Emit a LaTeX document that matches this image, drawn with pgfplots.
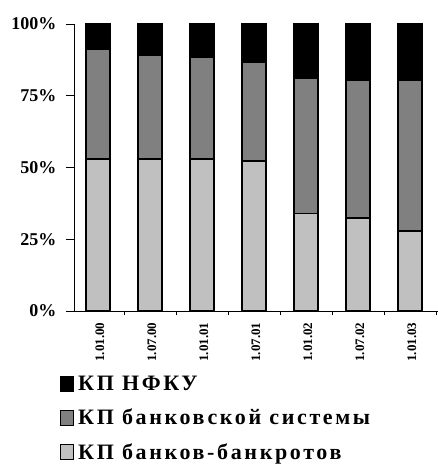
\documentclass[border=0pt]{standalone}
\usepackage{fontspec}
\setmainfont{Liberation Serif}
\newfontfamily\legfont[LetterSpace=12]{Liberation Serif}
\usepackage{pgfplots}
\pgfplotsset{compat=1.18}
\definecolor{cblack}{RGB}{0,0,0}
\definecolor{cgray}{RGB}{128,128,128}
\definecolor{clight}{RGB}{192,192,192}
\begin{document}
\begin{tikzpicture}
\begin{axis}[
  scale only axis,
  width=364pt, height=287pt,
  xmin=-0.46, xmax=6.54,
  ymin=0, ymax=100,
  ybar stacked,
  bar width=0.46,
  axis x line=bottom, axis y line=left,
  axis line style={-, black, line width=0.6pt},
  xtick={0,1,2,3,4,5,6},
  xticklabels={1.01.00,1.07.00,1.01.01,1.07.01,1.01.02,1.07.02,1.01.03},
  minor xtick={-0.5,0.5,1.5,2.5,3.5,4.5,5.5,6.5},
  major x tick style={draw=none},
  minor x tick style={black, line width=0.6pt},
  tick align=outside,
  major tick length=8pt,
  minor tick length=4pt,
  ytick={0,25,50,75,100},
  ytick style={black, line width=0.6pt},
  yticklabel={\pgfmathprintnumber{\tick}\%},
  /pgf/number format/assume math mode=true,
  yticklabel style={font=\fontsize{18}{20}\selectfont\bfseries, xshift=-6pt},
  xticklabel style={font=\fontsize{13}{15}\selectfont\bfseries, rotate=90, anchor=east, yshift=-2pt},
  reverse legend,
  legend cell align=left,
  legend style={at={(-0.038,-0.22)}, anchor=north west, draw=none, fill=none,
    font=\fontsize{22}{24}\selectfont\legfont\bfseries, row sep=13pt,
    inner sep=0pt, nodes={inner xsep=4pt}},
  legend image code/.code={\draw[#1, line width=0.8pt] (0pt,-7.5pt) rectangle (13pt,7.5pt);},
]
\addplot[fill=clight, draw=black, line width=1.6pt] coordinates {(0,53.0) (1,53.0) (2,53.0) (3,52.3) (4,34.0) (5,32.3) (6,27.9)};
\addplot[fill=cgray, draw=black, line width=1.6pt] coordinates {(0,38.3) (1,36.2) (2,35.3) (3,34.3) (4,47.1) (5,48.2) (6,52.6)};
\addplot[fill=cblack, draw=black, line width=1.6pt] coordinates {(0,8.7) (1,10.8) (2,11.7) (3,13.4) (4,18.9) (5,19.5) (6,19.5)};
\legend{КП банков-банкротов, КП банковской системы, КП НФКУ}
\end{axis}
\pgfresetboundingbox
\path (current axis.south west) ++(-74pt,-154pt) rectangle ++(438pt,465pt);
\end{tikzpicture}
\end{document}
